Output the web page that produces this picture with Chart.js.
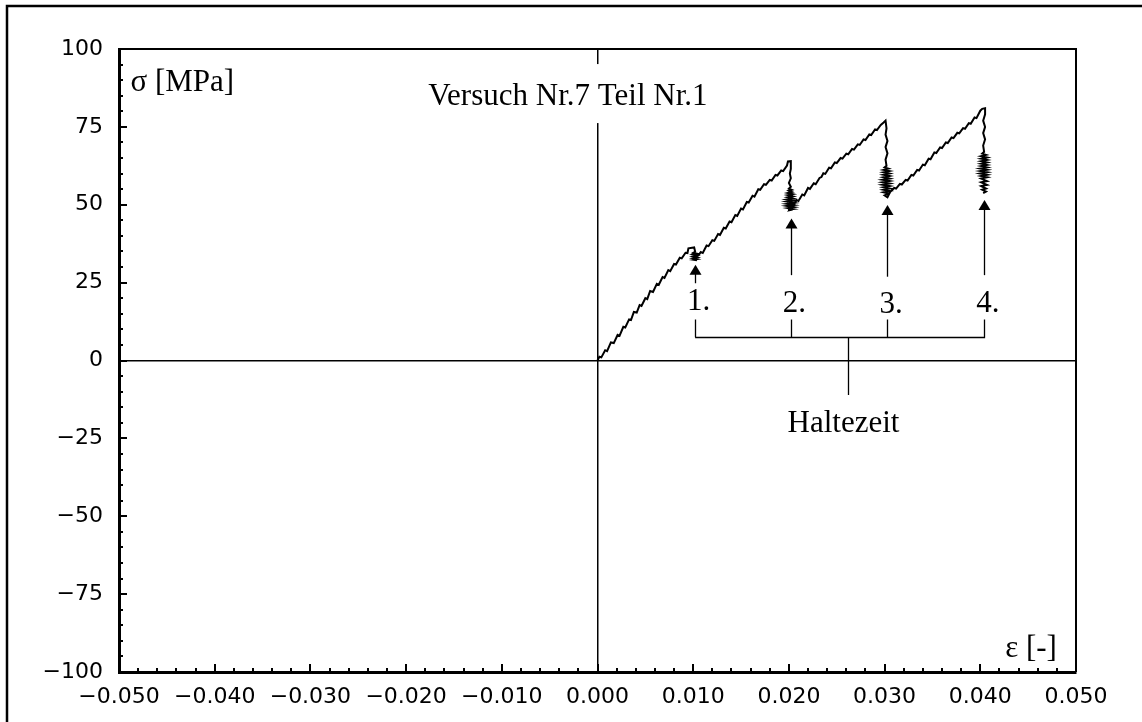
<!DOCTYPE html>
<html lang="de">
<head>
  <meta charset="UTF-8" />
  <title>Versuch Nr.7 Teil Nr.1</title>
  <script src="https://cdn.jsdelivr.net/npm/chart.js"></script>
  <style>
    html, body { margin: 0; padding: 0; background: #fff; }
    #wrap { width: 1142px; height: 722px; position: relative; }
  </style>
</head>
<body>
  <div id="wrap"><canvas id="chart"></canvas></div>

  <script>
    // axis ticks
    const xTicks = [-0.05, -0.04, -0.03, -0.02, -0.01, 0, 0.01, 0.02, 0.03, 0.04, 0.05];
    const yTicks = [-100, -75, -50, -25, 0, 25, 50, 75, 100];

    // measured curve, strain [-] and stress [MPa], one block per loading + hold
    const strain1 = [
      0.0000, 0.0002, 0.0004, 0.0008, 0.0010, 0.0014, 0.0017, 0.0021, 0.0023, 0.0027,
      0.0029, 0.0033, 0.0035, 0.0038, 0.0041, 0.0044, 0.0046, 0.0050, 0.0052, 0.0055,
      0.0058, 0.0062, 0.0064, 0.0068, 0.0070, 0.0074, 0.0076, 0.0080, 0.0082, 0.0086,
      0.0088, 0.0092, 0.0094, 0.0095, 0.0101, 0.0102, 0.0100, 0.0104, 0.0100, 0.0104,
      0.0100, 0.0104, 0.0100, 0.0104, 0.0101, 0.0103
    ];
    const stress1 = [
      0.0, 1.2, 1.0, 3.3, 3.0, 5.8, 5.6, 8.2, 7.9, 10.8,
      10.6, 13.2, 13.0, 15.6, 15.4, 17.8, 17.5, 20.0, 19.7, 22.3,
      22.0, 24.6, 24.3, 26.8, 26.5, 29.0, 28.7, 31.0, 30.8, 33.0,
      32.8, 34.6, 34.5, 36.0, 36.3, 35.0, 34.6, 34.3, 34.0, 33.7,
      33.4, 33.1, 32.8, 32.5, 32.3, 32.2
    ];
    const strain2 = [
      0.0104, 0.0108, 0.0110, 0.0114, 0.0116, 0.0120, 0.0122, 0.0126, 0.0128, 0.0132,
      0.0134, 0.0138, 0.0140, 0.0144, 0.0146, 0.0150, 0.0152, 0.0156, 0.0158, 0.0162,
      0.0164, 0.0168, 0.0170, 0.0174, 0.0176, 0.0180, 0.0182, 0.0186, 0.0188, 0.0192,
      0.0194, 0.0198, 0.0199, 0.0202, 0.0202, 0.0201, 0.0202, 0.0200, 0.0202,
      0.0200, 0.0203, 0.0200, 0.0203, 0.0199, 0.0204, 0.0199, 0.0204, 0.0199, 0.0204,
      0.0198, 0.0205, 0.0198, 0.0205, 0.0198, 0.0205, 0.0198, 0.0205, 0.0199, 0.0204,
      0.0199, 0.0204, 0.0201
    ];
    const stress2 = [
      33.2, 34.8, 34.5, 36.9, 36.7, 38.6, 38.4, 40.6, 40.3, 42.6,
      42.4, 44.6, 44.4, 46.7, 46.4, 48.8, 48.5, 50.9, 50.7, 52.9,
      52.6, 55.0, 54.8, 56.6, 56.4, 58.0, 57.8, 59.6, 59.4, 61.0,
      60.8, 62.6, 63.9, 64.0, 61.5, 60.0, 58.5, 57.0, 55.8,
      55.2, 54.8, 54.5, 54.1, 53.8, 53.4, 53.1, 52.7, 52.4, 52.0,
      51.7, 51.3, 51.0, 50.6, 50.3, 49.9, 49.6, 49.2, 48.9, 48.6,
      48.4, 48.5, 48.3
    ];
    const strain3 = [
      0.0205, 0.0208, 0.0210, 0.0214, 0.0216, 0.0220, 0.0222, 0.0226, 0.0228, 0.0232,
      0.0234, 0.0236, 0.0238, 0.0242, 0.0244, 0.0248, 0.0250, 0.0254, 0.0256, 0.0260,
      0.0262, 0.0266, 0.0268, 0.0272, 0.0274, 0.0278, 0.0280, 0.0284, 0.0286, 0.0290,
      0.0292, 0.0296, 0.0299, 0.0301, 0.0302, 0.0301, 0.0303, 0.0301, 0.0303, 0.0301,
      0.0302,
      0.0300, 0.0304, 0.0299, 0.0305, 0.0299, 0.0305, 0.0299, 0.0305, 0.0299, 0.0305,
      0.0298, 0.0305, 0.0298, 0.0305, 0.0298, 0.0305, 0.0299, 0.0305, 0.0299, 0.0305,
      0.0299, 0.0304, 0.0300, 0.0303
    ];
    const stress3 = [
      49.6, 51.5, 51.2, 53.3, 53.0, 55.4, 55.1, 56.9, 56.6, 58.6,
      58.9, 60.1, 59.9, 61.9, 61.7, 63.6, 63.4, 65.0, 64.8, 66.4,
      66.2, 67.9, 67.7, 69.4, 69.2, 71.0, 70.8, 72.6, 72.4, 74.2,
      74.0, 75.6, 76.4, 77.0, 74.5, 72.5, 70.5, 68.5, 66.5, 64.5,
      62.5,
      62.0, 61.6, 61.2, 60.8, 60.4, 60.0, 59.6, 59.2, 58.8, 58.4,
      58.0, 57.6, 57.2, 56.8, 56.4, 56.0, 55.6, 55.2, 54.8, 54.4,
      54.0, 53.6, 53.0, 52.4
    ];
    const strain4 = [
      0.0306, 0.0310, 0.0312, 0.0316, 0.0318, 0.0322, 0.0324, 0.0328, 0.0330, 0.0334,
      0.0336, 0.0340, 0.0342, 0.0346, 0.0348, 0.0352, 0.0354, 0.0358, 0.0360, 0.0364,
      0.0366, 0.0370, 0.0372, 0.0376, 0.0378, 0.0382, 0.0384, 0.0388, 0.0390, 0.0394,
      0.0396, 0.0400, 0.0402, 0.0405, 0.0405, 0.0403, 0.0405, 0.0403, 0.0405, 0.0403,
      0.0404,
      0.0402, 0.0406, 0.0401, 0.0407, 0.0401, 0.0407, 0.0401, 0.0407, 0.0401, 0.0407,
      0.0401, 0.0407, 0.0400, 0.0407, 0.0400, 0.0407, 0.0400, 0.0407, 0.0401, 0.0407,
      0.0401, 0.0407, 0.0401, 0.0407, 0.0401, 0.0406, 0.0402, 0.0406, 0.0403
    ];
    const stress4 = [
      54.2, 55.4, 55.2, 56.7, 56.5, 58.0, 57.8, 59.6, 59.4, 61.2,
      61.0, 62.9, 62.7, 64.8, 64.6, 66.8, 66.6, 68.4, 68.2, 70.0,
      69.8, 71.6, 71.4, 73.1, 72.9, 74.6, 74.4, 76.2, 76.0, 78.0,
      77.8, 80.2, 80.8, 81.0, 79.0, 77.0, 75.0, 73.0, 71.0, 69.0,
      67.0,
      66.4, 66.0, 65.6, 65.2, 64.8, 64.4, 64.0, 63.6, 63.2, 62.8,
      62.4, 62.0, 61.6, 61.2, 60.8, 60.4, 60.0, 59.6, 59.2, 58.8,
      58.4, 57.6, 57.2, 56.4, 56.0, 55.2, 54.8, 54.2, 53.7
    ];

    // hold periods (Haltezeit): arrows and labels
    const holdLabels = ['1.', '2.', '3.', '4.'];
    const holdX = [0.0102, 0.0202, 0.0303, 0.0404];
    const arrowTip = [30.7, 45.6, 49.9, 51.5];
    const arrowFoot = [24.8, 27.4, 26.9, 27.4];
    const labelY = [16.2, 15.6, 15.2, 15.6];
    const bracketTop = 13.2, bracketY = 7.5, stemX = 0.0262, stemEnd = -11.1;

    const strain = [...strain1, ...strain2, ...strain3, ...strain4];
    const stress = [...stress1, ...stress2, ...stress3, ...stress4];

    const fmtX = v => Math.abs(v) < 1e-9 ? '0.000' : (v < 0 ? '\u2212' : '') + Math.abs(v).toFixed(3);
    const fmtY = v => (v < 0 ? '\u2212' : '') + Math.abs(v);

    const serif = '31px "Liberation Serif", "Times New Roman", serif';

    const drawing = {
      id: 'drawing',
      beforeDraw(chart) {
        const c = chart.ctx;
        c.save();
        c.fillStyle = '#fff';
        c.fillRect(0, 0, chart.width, chart.height);
        // outer frame
        c.strokeStyle = '#000';
        c.lineWidth = 2.5;
        c.beginPath();
        c.moveTo(7, chart.height);
        c.lineTo(7, 6);
        c.lineTo(chart.width, 6);
        c.stroke();
        c.restore();
      },
      afterDatasetsDraw(chart) {
        const c = chart.ctx, xs = chart.scales.x, ys = chart.scales.y, a = chart.chartArea;
        const px = v => xs.getPixelForValue(v), py = v => ys.getPixelForValue(v);
        c.save();
        c.strokeStyle = '#000';
        c.fillStyle = '#000';

        // top and right frame
        c.lineWidth = 2;
        c.beginPath();
        c.moveTo(a.left, a.top); c.lineTo(a.right, a.top); c.lineTo(a.right, a.bottom);
        c.stroke();

        // inward ticks, 5 subdivisions
        c.beginPath();
        for (let i = 0; i < xTicks.length - 1; i++) {
          for (let k = 0; k < 5; k++) {
            const x = Math.round(px(xTicks[i] + (xTicks[i + 1] - xTicks[i]) * k / 5));
            c.moveTo(x, a.bottom); c.lineTo(x, a.bottom - (k === 0 ? 8 : 4));
          }
        }
        for (let i = 0; i < yTicks.length - 1; i++) {
          for (let k = 0; k < 5; k++) {
            const y = Math.round(py(yTicks[i] + (yTicks[i + 1] - yTicks[i]) * k / 5));
            c.moveTo(a.left, y); c.lineTo(a.left + (k === 0 ? 8 : 4), y);
          }
        }
        c.stroke();

        // arrows
        c.lineWidth = 1.3;
        holdX.forEach((hx, i) => {
          const x = Math.round(px(hx)) + 0.5, tip = py(arrowTip[i]);
          c.beginPath();
          c.moveTo(x, py(arrowFoot[i])); c.lineTo(x, tip + 9);
          c.stroke();
          c.beginPath();
          c.moveTo(x, tip); c.lineTo(x - 6, tip + 10); c.lineTo(x + 6, tip + 10); c.closePath();
          c.fill();
        });

        // bracket
        c.beginPath();
        holdX.forEach(hx => {
          const x = Math.round(px(hx)) + 0.5;
          c.moveTo(x, py(bracketTop)); c.lineTo(x, py(bracketY));
        });
        c.moveTo(px(holdX[0]), Math.round(py(bracketY)) + 0.5);
        c.lineTo(px(holdX[3]) + 1, Math.round(py(bracketY)) + 0.5);
        c.moveTo(Math.round(px(stemX)) + 0.5, py(bracketY));
        c.lineTo(Math.round(px(stemX)) + 0.5, py(stemEnd));
        c.stroke();

        // texts
        c.font = serif;
        c.textBaseline = 'alphabetic';
        c.textAlign = 'left';
        holdLabels.forEach((t, i) => c.fillText(t, px(holdX[i]) - 8, py(labelY[i])));
        c.textAlign = 'center';
        c.fillText('Haltezeit', px(0.0257), py(-22.9));
        c.textAlign = 'left';
        c.fillText('\u03c3 [MPa]', px(-0.0488), py(86.6));
        c.fillText('\u03b5 [-]', px(0.0426), py(-95.1));

        // title with white box over the zero line
        const title = 'Versuch Nr.7 Teil Nr.1';
        const w = c.measureText(title).width;
        const tx = px(-0.0031), ty = py(82.0);
        c.fillStyle = '#fff';
        c.fillRect(tx - w / 2 - 4, ty - 41, w + 8, 59);
        c.fillStyle = '#000';
        c.textAlign = 'center';
        c.fillText(title, tx, ty);
        c.restore();
      }
    };

    const points = strain.map((x, i) => ({ x, y: stress[i] }));

    new Chart(document.getElementById('chart'), {
      type: 'scatter',
      data: {
        datasets: [{
          data: points,
          showLine: true,
          borderColor: '#000',
          borderWidth: 2,
          pointRadius: 0,
          tension: 0,
        }],
      },
      options: {
        responsive: true,
        maintainAspectRatio: false,
        animation: false,
        layout: { padding: { left: 0, top: 49, right: 66, bottom: 0 } },
        plugins: { legend: { display: false }, tooltip: { enabled: false } },
        scales: {
          x: {
            type: 'linear',
            min: -0.05,
            max: 0.05,
            afterBuildTicks: s => { s.ticks = xTicks.map(v => ({ value: v })); },
            afterFit: s => { s.height = 50; },
            border: { display: true, color: '#000', width: 3 },
            grid: {
              drawTicks: false,
              lineWidth: 1.5,
              color: ctx => (ctx.tick && ctx.tick.value === 0 ? '#000' : 'rgba(0,0,0,0)'),
            },
            ticks: {
              autoSkip: false,
              maxRotation: 0,
              padding: 12,
              color: '#000',
              font: { family: '"DejaVu Sans"', size: 22 },
              callback: v => fmtX(v),
            },
          },
          y: {
            type: 'linear',
            min: -100,
            max: 100,
            afterBuildTicks: s => { s.ticks = yTicks.map(v => ({ value: v })); },
            afterFit: s => { s.width = 119; },
            border: { display: true, color: '#000', width: 3 },
            grid: {
              drawTicks: false,
              lineWidth: 1.5,
              color: ctx => (ctx.tick && ctx.tick.value === 0 ? '#000' : 'rgba(0,0,0,0)'),
            },
            ticks: {
              padding: 16,
              color: '#000',
              font: { family: '"DejaVu Sans"', size: 22 },
              callback: v => fmtY(v),
            },
          },
        },
      },
      plugins: [drawing],
    });
  </script>
</body>
</html>
